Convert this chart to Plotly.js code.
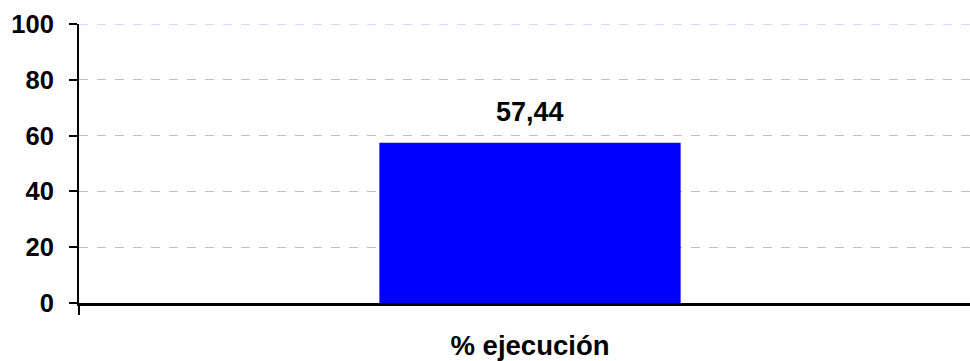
<!DOCTYPE html>
<html><head><meta charset="utf-8">
<script src="https://cdn.plot.ly/plotly-3.0.1.min.js"></script>
<style>html,body{margin:0;padding:0;overflow:hidden;background:#fff}#chart{width:981px;height:361px}</style>
</head><body><div id="chart"></div>
<script>
const categories = ["% ejecución"];
const values = [57.44];
const yTicks = [0, 20, 40, 60, 80, 100];

const fam = "Liberation Sans, Arial, sans-serif";

const data = [{
  type: "bar",
  x: categories,
  y: values,
  marker: {color: "#0000ff", line: {width: 0}},
  width: 0.334,
  hoverinfo: "none"
}];

const layout = {
  width: 981, height: 361,
  margin: {l: 79, r: 0, t: 24, b: 58},
  paper_bgcolor: "#fff", plot_bgcolor: "#fff",
  separators: ",.",
  showlegend: false,
  font: {family: fam, size: 20, color: "#000"},
  xaxis: {
    type: "category",
    range: [-0.5, 0.5],
    showline: true, linecolor: "#000", linewidth: 3,
    ticks: "outside", tickson: "boundaries", ticklen: 9, tickwidth: 2, tickcolor: "#000",
    tickfont: {family: fam, size: 27.5, color: "#000", weight: "bold"},
    ticklabelstandoff: 16,
    showgrid: false, zeroline: false, fixedrange: true
  },
  yaxis: {
    range: [0, 100],
    tickvals: yTicks,
    ticktext: yTicks.map(String),
    showline: true, linecolor: "#000", linewidth: 2,
    ticks: "outside", ticklen: 8, tickwidth: 2, tickcolor: "#000",
    tickfont: {family: fam, size: 25.5, color: "#000", weight: "bold"},
    ticklabelstandoff: 10,
    showgrid: true, gridcolor: "#c0c0c0", griddash: "dash", gridwidth: 1,
    zeroline: false, fixedrange: true
  },
  shapes: [{
    type: "line", xref: "paper", yref: "y", x0: 0, x1: 1, y0: yTicks[yTicks.length-1], y1: yTicks[yTicks.length-1],
    line: {color: "#d8d8ff", width: 2, dash: "dash"}, layer: "above"
  }],
  annotations: values.map((v, i) => ({
    x: categories[i], y: v, xref: "x", yref: "y",
    text: v.toFixed(2).replace(".", ","),
    showarrow: false, yanchor: "bottom", yshift: 14,
    font: {family: fam, size: 27, color: "#000", weight: "bold"}
  }))
};

Plotly.newPlot("chart", data, layout, {displayModeBar: false, staticPlot: true});
</script></body></html>
